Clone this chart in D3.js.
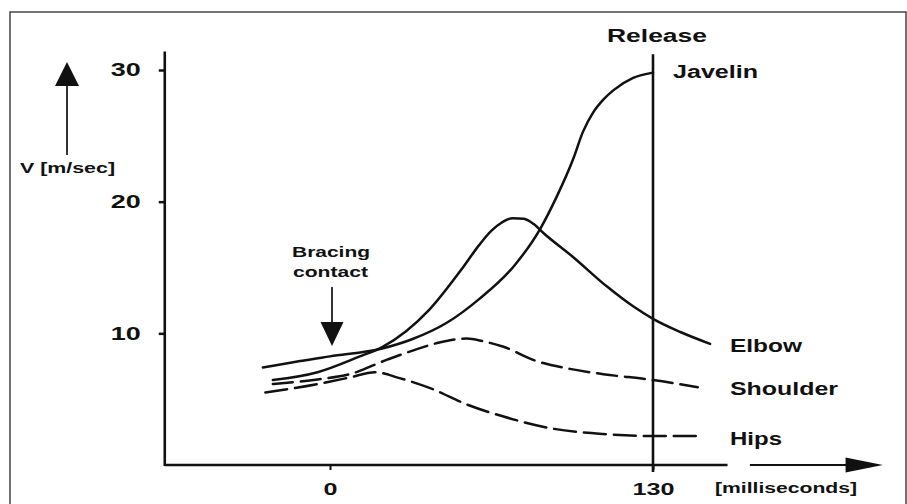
<!DOCTYPE html>
<html>
<head>
<meta charset="utf-8">
<script src="https://cdn.jsdelivr.net/npm/d3@7"></script>
<style>
  body { margin: 0; background: #fff; }
  svg text { font-family: "Liberation Sans", Arial, sans-serif; font-weight: bold; fill: #111; }
</style>
</head>
<body>
<div id="chart"></div>
<script>
// time in milliseconds (0 = bracing contact), speed in m/sec
const javelin = [
  [-27, 7.4], [-12, 7.9], [0, 8.25], [21, 8.85], [33, 9.55], [47, 10.8],
  [60, 12.6], [74, 15.1], [84.5, 17.9], [91.3, 20.4], [97.8, 23.2],
  [101.8, 25.3], [106, 26.8], [110, 27.75], [114, 28.45], [122, 29.4], [130, 29.8]
];
const elbow = [
  [-23, 6.45], [-5, 7.05], [12, 8.25], [21, 8.95], [40, 11.8], [53.5, 15.0],
  [60, 16.7], [65, 17.8], [69, 18.4], [73.5, 18.75], [78, 18.7], [82, 18.3],
  [86, 17.6], [97.8, 15.8], [111.5, 13.55], [122, 12.05], [130, 11.1],
  [141, 10.1], [153, 9.2]
];
const shoulder = [
  [-23, 6.15], [-5, 6.5], [8, 6.9], [23, 8.0], [35, 8.8], [44, 9.3],
  [55, 9.6], [61.5, 9.4], [69.5, 9.0], [83, 7.9], [96.5, 7.3], [110, 6.9],
  [130, 6.45], [148, 5.9]
];
const hips = [
  [-26, 5.5], [-5, 6.15], [8, 6.65], [18, 7.05], [28, 6.6], [41.5, 5.75],
  [55, 4.6], [69.5, 3.7], [90, 2.75], [110, 2.35], [130, 2.2], [149, 2.2]
];
const seriesNames = ["Javelin", "Elbow", "Shoulder", "Hips"];
const yTicks = [10, 20, 30];
const xTicks = [0, 130];
const xTickLabels = ["0", "130"];
const releaseTime = 130;

const width = 907, height = 504;
const svg = d3.select("#chart").append("svg")
  .attr("width", width).attr("height", height);

const x = d3.scaleLinear().domain([0, 130]).range([330, 653]);
const y = d3.scaleLinear().domain([0, 30]).range([465, 70]);

// frame
svg.append("rect")
  .attr("x", 10).attr("y", 12).attr("width", 896).attr("height", 510)
  .attr("fill", "none").attr("stroke", "#444").attr("stroke-width", 1.5);

function label(txt, px, py, size, len, anchor) {
  const t = svg.append("text")
    .attr("x", px).attr("y", py)
    .attr("font-size", size)
    .attr("text-anchor", anchor || "start")
    .text(txt);
  if (len) t.attr("textLength", len).attr("lengthAdjust", "spacingAndGlyphs");
  return t;
}

// y axis
const yAxis = svg.append("g")
  .attr("transform", `translate(${x(-66.5)},0)`)
  .call(d3.axisLeft(y).tickValues(yTicks).tickSize(6).tickPadding(18));
yAxis.select(".domain").remove();
yAxis.selectAll(".tick line").attr("stroke", "#111").attr("stroke-width", 2.5);
yAxis.selectAll(".tick text")
  .attr("font-size", 18).attr("fill", "#111")
  .attr("font-family", "Liberation Sans, Arial, sans-serif")
  .attr("font-weight", "bold")
  .attr("textLength", 30).attr("lengthAdjust", "spacingAndGlyphs");
svg.append("line")
  .attr("x1", x(-66.5)).attr("x2", x(-66.5))
  .attr("y1", y(31.4)).attr("y2", y(0) + 1)
  .attr("stroke", "#111").attr("stroke-width", 2.6);

// x axis
const xAxis = svg.append("g")
  .attr("transform", `translate(0,${y(0)})`)
  .call(d3.axisBottom(x).tickValues(xTicks).tickSize(5).tickPadding(13)
    .tickFormat((d, i) => xTickLabels[i]));
xAxis.select(".domain").remove();
xAxis.selectAll(".tick line").attr("stroke", "#111").attr("stroke-width", 2);
xAxis.selectAll(".tick text")
  .attr("font-size", 17).attr("fill", "#111")
  .attr("font-family", "Liberation Sans, Arial, sans-serif")
  .attr("font-weight", "bold")
  .attr("textLength", (d) => d === 0 ? 14 : 42)
  .attr("lengthAdjust", "spacingAndGlyphs");
svg.append("line")
  .attr("x1", x(-66.5)).attr("x2", x(160))
  .attr("y1", y(0)).attr("y2", y(0))
  .attr("stroke", "#111").attr("stroke-width", 2.6);
svg.append("line")
  .attr("x1", x(169)).attr("x2", x(213))
  .attr("y1", y(0)).attr("y2", y(0))
  .attr("stroke", "#111").attr("stroke-width", 2.2);
svg.append("path")
  .attr("d", `M${x(207.5)},${y(0) - 7.5}L${x(222.5)},${y(0)}L${x(207.5)},${y(0) + 7.5}Z`)
  .attr("fill", "#111");

// release line
svg.append("line")
  .attr("x1", x(releaseTime)).attr("x2", x(releaseTime))
  .attr("y1", y(31.2)).attr("y2", y(0) + 7)
  .attr("stroke", "#111").attr("stroke-width", 2.6);
label("Release", 607, 42, 18, 100);

// curves
const line = d3.line()
  .x(d => x(d[0])).y(d => y(d[1]))
  .curve(d3.curveMonotoneX);
const curves = [
  { data: javelin, dash: null },
  { data: elbow, dash: null },
  { data: shoulder, dash: "20,8" },
  { data: hips, dash: "22,8" }
];
svg.append("g").selectAll("path")
  .data(curves)
  .join("path")
  .attr("d", d => line(d.data))
  .attr("fill", "none")
  .attr("stroke", "#111")
  .attr("stroke-width", 2.5)
  .attr("stroke-linecap", "round")
  .attr("stroke-dasharray", d => d.dash);

// series labels
label(seriesNames[0], 673, 78, 18, 85);
label(seriesNames[1], 730, 352, 18, 72);
label(seriesNames[2], 730, 395, 18, 108);
label(seriesNames[3], 730, 445, 18, 52);

// axis titles
label("V [m/sec]", 20, 173, 14, 95);
svg.append("line")
  .attr("x1", 67).attr("x2", 67).attr("y1", 155).attr("y2", 84)
  .attr("stroke", "#333").attr("stroke-width", 2);
svg.append("path").attr("d", "M55,86L67,62L79,86Z").attr("fill", "#111");
label("[milliseconds]", 715, 493, 14, 142);

// bracing contact annotation
label("Bracing", 292, 257, 14, 78);
label("contact", 293, 277, 14, 75);
const bx = x(0) + 2;
svg.append("line")
  .attr("x1", bx).attr("x2", bx).attr("y1", 287).attr("y2", 323)
  .attr("stroke", "#333").attr("stroke-width", 2);
svg.append("path")
  .attr("d", `M${bx - 11.5},322L${bx},346L${bx + 11.5},322Z`)
  .attr("fill", "#111");
</script>
</body>
</html>
